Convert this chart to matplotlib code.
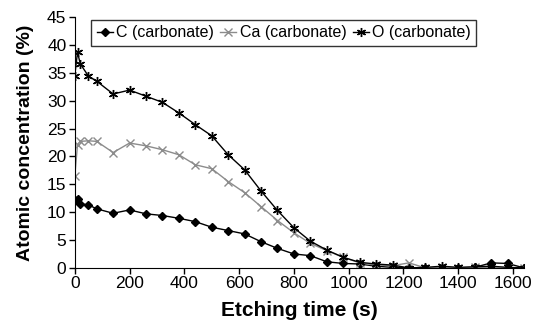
import matplotlib.pyplot as plt
import numpy as np

plt.rcParams['font.family'] = ['Liberation Sans', 'DejaVu Sans']

# etching time (s)
t = [0, 10, 20, 50, 80, 140, 200, 260, 320, 380, 440, 500, 560, 620, 680, 740,
     800, 860, 920, 980, 1040, 1100, 1160, 1220, 1280, 1340, 1400, 1460, 1520, 1580, 1640]

c_carb = [12.2, 12.3, 11.5, 11.3, 10.6, 9.8, 10.4, 9.7, 9.4, 8.9, 8.3, 7.3, 6.7, 6.1, 4.7, 3.5,
          2.5, 2.2, 1.1, 0.8, 0.7, 0.3, 0.1, 0.0, 0.0, 0.0, 0.0, 0.1, 0.9, 0.8, 0.0]
ca_carb = [16.5, 22.1, 22.7, 22.8, 22.7, 20.7, 22.4, 21.9, 21.2, 20.3, 18.5, 17.8, 15.5, 13.5, 11.0, 8.5,
           6.3, 4.4, 3.1, 1.9, 0.9, 0.5, 0.4, 0.9, 0.0, 0.1, 0.0, 0.1, 0.0, 0.0, 0.0]
o_carb = [34.5, 38.7, 36.6, 34.4, 33.5, 31.2, 31.9, 30.8, 29.7, 27.8, 25.7, 23.7, 20.3, 17.6, 13.8, 10.3,
          7.2, 4.8, 3.2, 1.9, 1.0, 0.7, 0.5, 0.0, 0.1, 0.3, 0.1, 0.2, 0.3, 0.1, 0.0]

fig = plt.figure(figsize=(5.38, 3.22), dpi=100)
ax = fig.add_axes([0.139, 0.168, 0.835, 0.779])

ax.plot(t, c_carb, c='black', lw=1, marker='D', ms=4.5, label='C (carbonate)')
ax.plot(t, ca_carb, c='#8c8c8c', lw=1, marker='x', ms=5.5, mew=1, label='Ca (carbonate)')
ax.plot(t, o_carb, c='black', lw=1, marker=(6, 2, 0), ms=6.5, mew=1, label='O (carbonate)')

ax.set_xlim(0, 1640)
ax.set_ylim(0, 45)
ax.set_xticks(np.arange(0, 1601, 200))
ax.set_yticks(np.arange(0, 46, 5))
ax.tick_params(labelsize=12.5, direction='out', length=4, width=1, pad=2)
for s in ['top', 'right']:
    ax.spines[s].set_visible(False)

ax.set_xlabel('Etching time (s)', fontsize=15, fontweight='bold', labelpad=7)
ax.set_ylabel('Atomic concentration (%)', fontsize=14, fontweight='bold', labelpad=9)

leg = ax.legend(loc='upper left', bbox_to_anchor=(0.037, 0.99), ncol=3, fontsize=11.5,
                frameon=True, fancybox=False, edgecolor='black', handlelength=1.0,
                handletextpad=0.2, columnspacing=0.4, borderpad=0.35, borderaxespad=0)
leg.get_frame().set_linewidth(1)

plt.savefig('out.png', dpi=100)
